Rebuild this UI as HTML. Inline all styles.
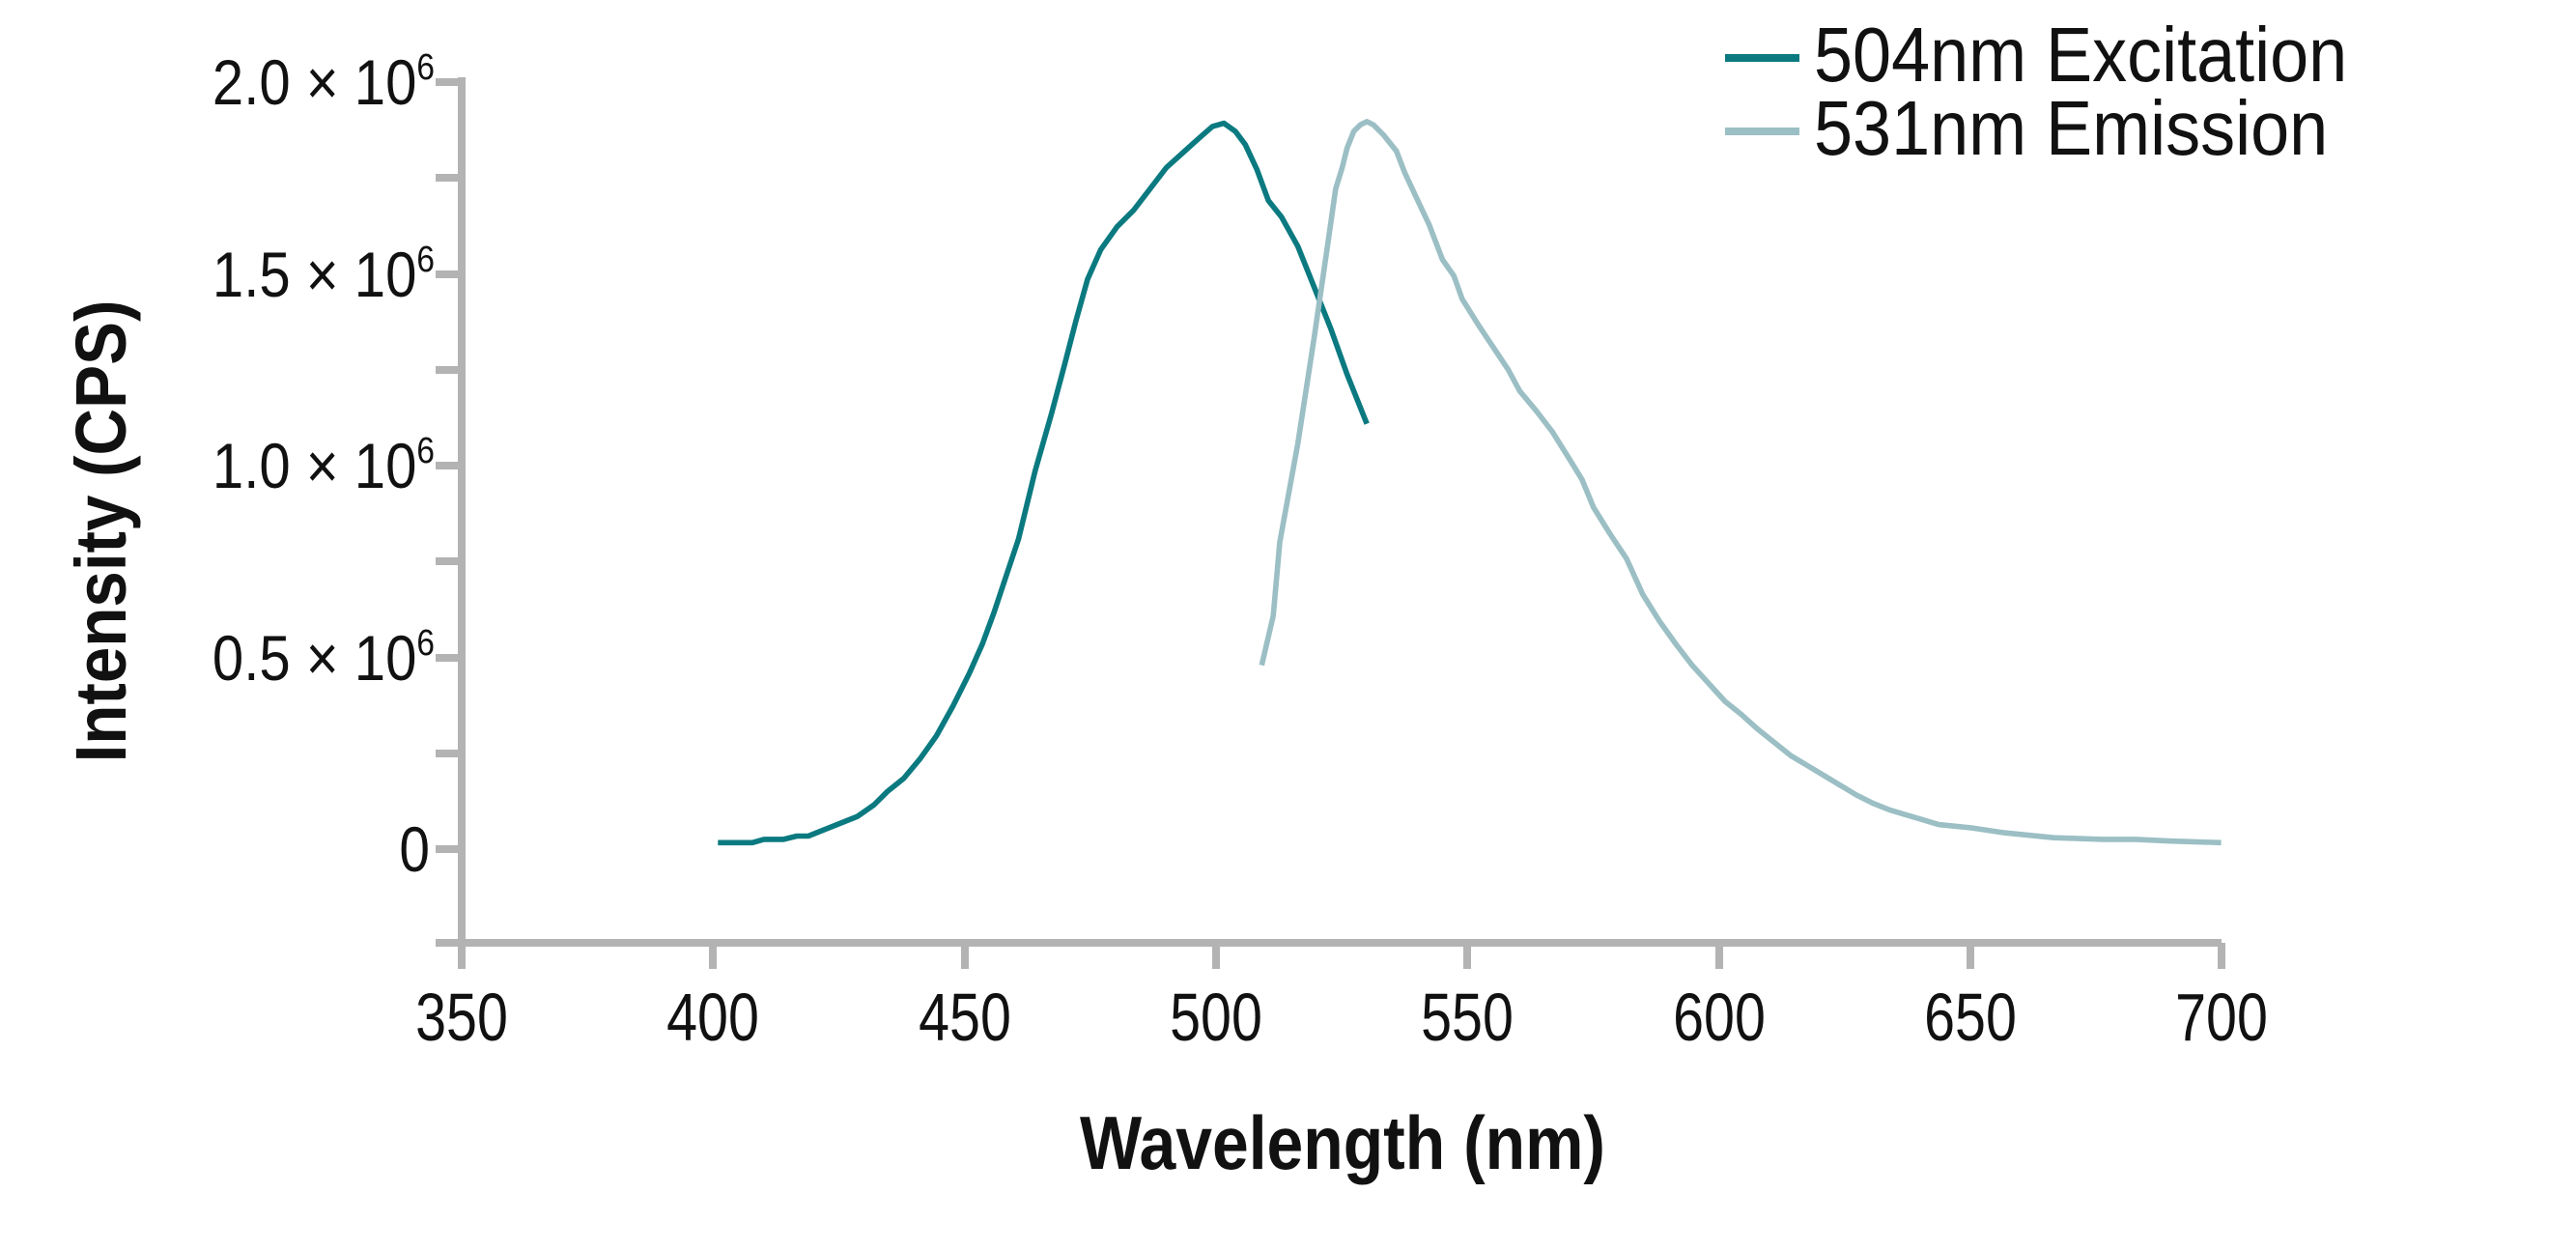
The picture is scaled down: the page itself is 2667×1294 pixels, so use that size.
<!DOCTYPE html>
<html><head><meta charset="utf-8"><style>
html,body{margin:0;padding:0;background:#fff;}
svg{display:block;}
text{font-family:"Liberation Sans",sans-serif;fill:#111;}
</style></head><body>
<svg width="2667" height="1294" viewBox="0 0 2667 1294" xmlns="http://www.w3.org/2000/svg">
<g stroke="#b3b3b3" stroke-width="8" fill="none">
<line x1="478" y1="80" x2="478" y2="980"/>
<line x1="475" y1="976" x2="2300" y2="976"/>
<line x1="451" y1="85" x2="478" y2="85"/>
<line x1="451" y1="184" x2="478" y2="184"/>
<line x1="451" y1="284" x2="478" y2="284"/>
<line x1="451" y1="383" x2="478" y2="383"/>
<line x1="451" y1="482" x2="478" y2="482"/>
<line x1="451" y1="581" x2="478" y2="581"/>
<line x1="451" y1="681" x2="478" y2="681"/>
<line x1="451" y1="780" x2="478" y2="780"/>
<line x1="451" y1="879" x2="478" y2="879"/>
<line x1="451" y1="976" x2="478" y2="976"/>
<line x1="478" y1="976" x2="478" y2="1003"/>
<line x1="738" y1="976" x2="738" y2="1003"/>
<line x1="999" y1="976" x2="999" y2="1003"/>
<line x1="1259" y1="976" x2="1259" y2="1003"/>
<line x1="1519" y1="976" x2="1519" y2="1003"/>
<line x1="1780" y1="976" x2="1780" y2="1003"/>
<line x1="2040" y1="976" x2="2040" y2="1003"/>
<line x1="2300" y1="976" x2="2300" y2="1003"/>
</g>
<g font-size="66" text-anchor="end">
<text transform="translate(450,108) scale(0.88,1)">2.0 × 10<tspan font-size="38" dy="-26">6</tspan></text>
<text transform="translate(450,307) scale(0.88,1)">1.5 × 10<tspan font-size="38" dy="-26">6</tspan></text>
<text transform="translate(450,505) scale(0.88,1)">1.0 × 10<tspan font-size="38" dy="-26">6</tspan></text>
<text transform="translate(450,704) scale(0.88,1)">0.5 × 10<tspan font-size="38" dy="-26">6</tspan></text>
<text transform="translate(445,902) scale(0.86,1)">0</text>
</g>
<g font-size="70" text-anchor="middle">
<text transform="translate(478,1077) scale(0.82,1)">350</text>
<text transform="translate(738,1077) scale(0.82,1)">400</text>
<text transform="translate(999,1077) scale(0.82,1)">450</text>
<text transform="translate(1259,1077) scale(0.82,1)">500</text>
<text transform="translate(1519,1077) scale(0.82,1)">550</text>
<text transform="translate(1780,1077) scale(0.82,1)">600</text>
<text transform="translate(2040,1077) scale(0.82,1)">650</text>
<text transform="translate(2300,1077) scale(0.82,1)">700</text>
</g>
<text transform="translate(1390,1210) scale(0.87,1)" font-size="78" font-weight="bold" text-anchor="middle">Wavelength (nm)</text>
<text transform="translate(130,550) rotate(-90) scale(0.91,1)" font-size="74" font-weight="bold" text-anchor="middle">Intensity (CPS)</text>
<line x1="1786" y1="60" x2="1863" y2="60" stroke="#0b7a80" stroke-width="8"/>
<line x1="1786" y1="136" x2="1863" y2="136" stroke="#9bbfc4" stroke-width="8"/>
<text transform="translate(1878,84) scale(0.9,1)" font-size="80">504nm Excitation</text>
<text transform="translate(1878,160) scale(0.9,1)" font-size="80">531nm Emission</text>
<g transform="scale(1.7009 1.7004)" fill="none" stroke-linejoin="round">
<polyline stroke="#0b7a80" stroke-width="3.3" points="437,513 458,513 465,511 477,511 485,509 492,509 522,497 532,490 540,482 550,474 560,462 570,448 580,430 590,410 598,392 605,373 612,352 620,328 630,287 640,252 648,222 655,195 662,170 670,152 680,138 690,128 700,115 710,102 720,93 730,84 738,77 745,75 752,80 758,88 765,103 772,122 780,132 790,150 800,175 810,200 820,228 832,258"/>
<polyline stroke="#9bbfc4" stroke-width="3.3" points="768,405 775,375 779,330 790,270 800,205 808,150 813,115 817,102 820,90 824,80 828,76 832,74 836,76 842,82 850,92 855,105 862,120 870,137 878,158 885,168 890,182 900,198 910,213 918,225 925,238 935,250 945,263 955,279 963,292 970,309 980,325 990,340 1000,362 1010,378 1020,392 1030,405 1040,416 1050,427 1060,435 1070,444 1080,452 1090,460 1100,466 1110,472 1120,478 1130,484 1140,489 1150,493 1160,496 1170,499 1180,502 1200,504 1220,507 1250,510 1280,511 1300,511 1320,512 1352,513"/>
</g>
</svg>
</body></html>
